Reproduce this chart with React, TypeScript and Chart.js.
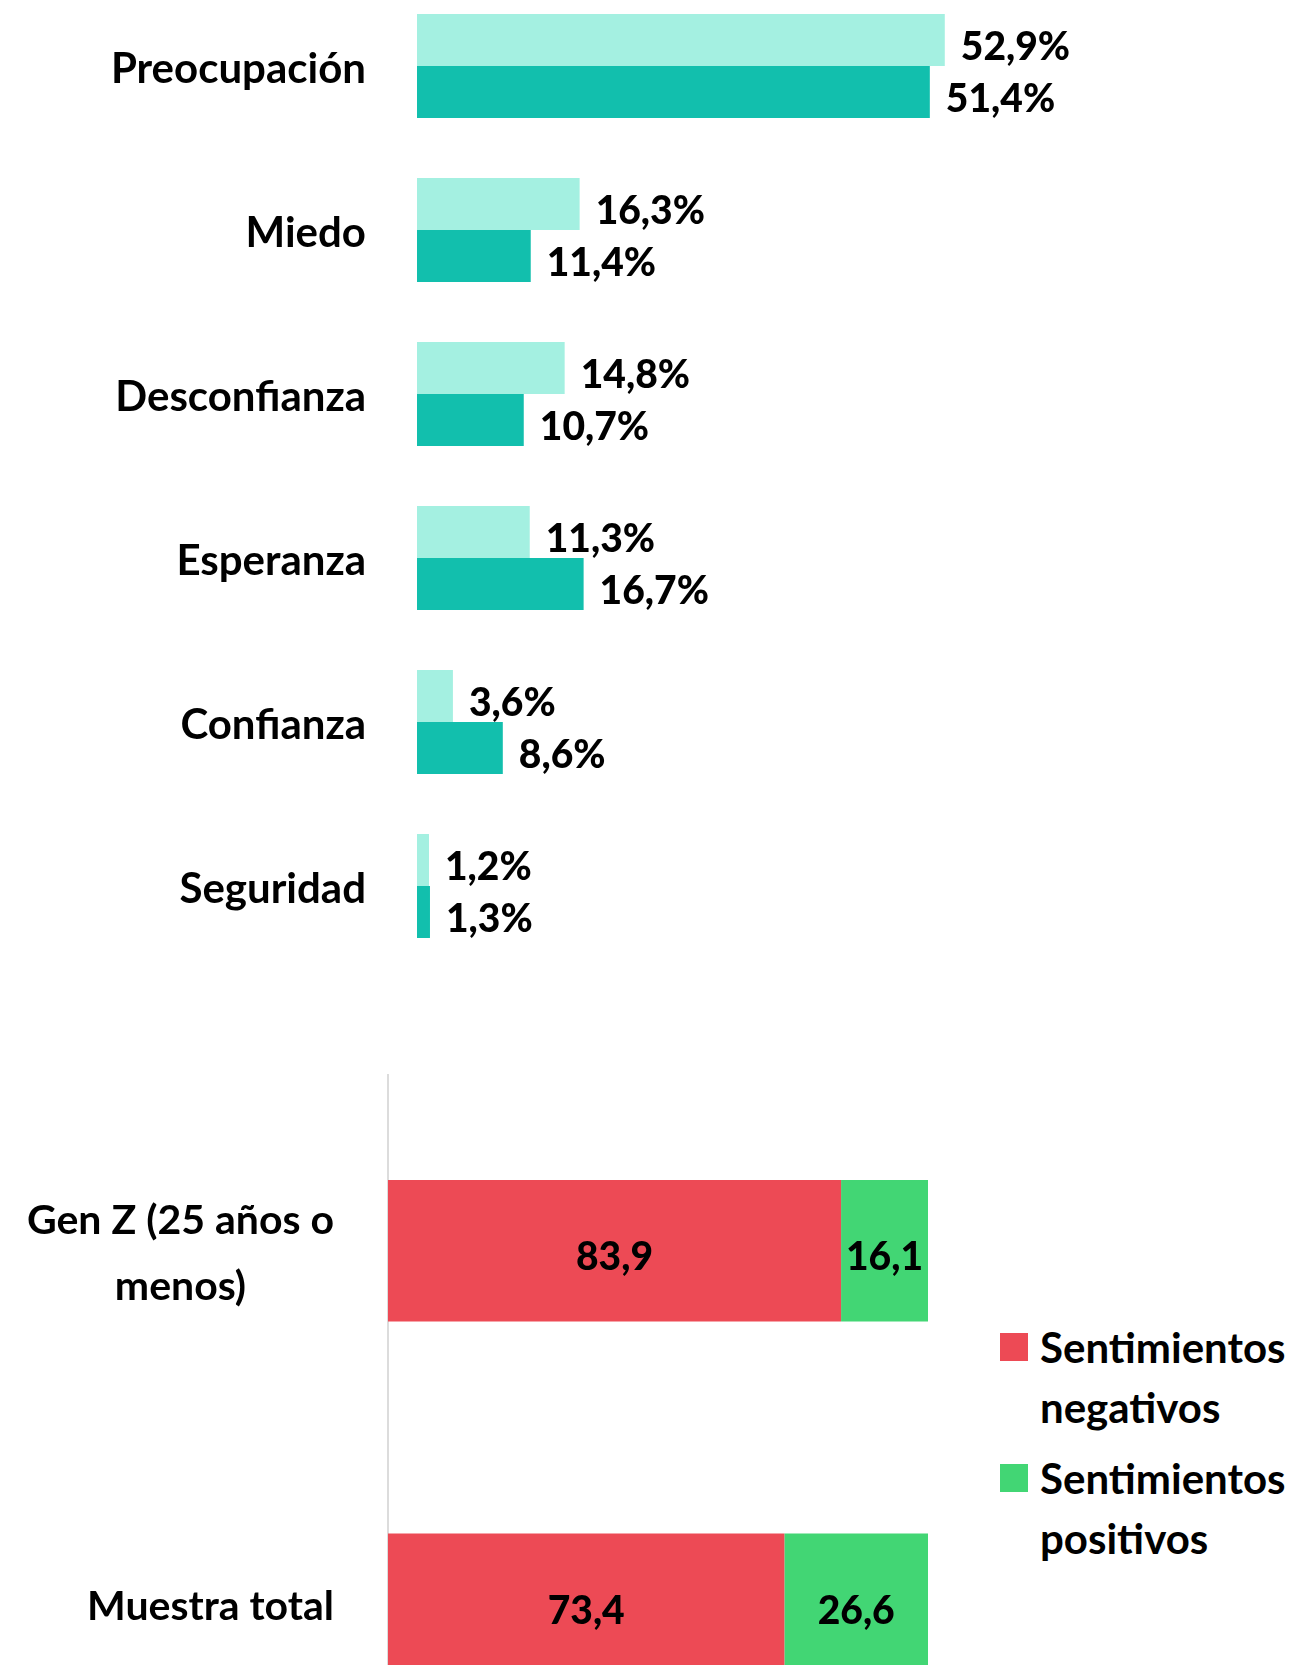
import React, { useEffect, useRef } from 'react';
import { Chart, registerables } from 'chart.js';

Chart.register(...registerables);

// ---------- Data ----------
const emotionCategories = ['Preocupación', 'Miedo', 'Desconfianza', 'Esperanza', 'Confianza', 'Seguridad'];
const genZEmotionValues = [52.9, 16.3, 14.8, 11.3, 3.6, 1.2];
const totalEmotionValues = [51.4, 11.4, 10.7, 16.7, 8.6, 1.3];

const groupLabels = [['Gen Z (25 años o', 'menos)'], ['Muestra total']];
const negativeValues = [83.9, 73.4];
const positiveValues = [16.1, 26.6];
const legendNegative = ['Sentimientos', 'negativos'];
const legendPositive = ['Sentimientos', 'positivos'];

// ---------- Styles ----------
const LIGHT = '#a4f0e1';
const DARK = '#12bfad';
const RED = '#ed4a55';
const GREEN = '#42d674';
const FONT = 'Lato, "Open Sans", "Noto Sans", sans-serif';

const fmt = (v: number) => v.toFixed(1).replace('.', ',');

const endLabelPlugin = {
  id: 'endLabels',
  afterDatasetsDraw(chart: any) {
    const ctx = chart.ctx;
    ctx.save();
    ctx.fillStyle = '#000';
    ctx.font = `900 39px ${FONT}`;
    ctx.textAlign = 'left';
    ctx.textBaseline = 'middle';
    chart.data.datasets.forEach((ds: any, di: number) => {
      const meta = chart.getDatasetMeta(di);
      meta.data.forEach((bar: any, i: number) => {
        ctx.fillText(fmt(ds.data[i]) + '%', bar.x + 16, bar.y + 7);
      });
    });
    ctx.restore();
  },
};

const categoryLabelPlugin = {
  id: 'categoryLabels',
  afterDraw(chart: any) {
    const ctx = chart.ctx;
    const yScale = chart.scales.y;
    ctx.save();
    ctx.fillStyle = '#000';
    ctx.font = `700 42px ${FONT}`;
    ctx.textAlign = 'right';
    ctx.textBaseline = 'middle';
    emotionCategories.forEach((c, i) => {
      ctx.fillText(c, 366, yScale.getPixelForValue(i) + 3);
    });
    ctx.restore();
  },
};

const centerLabelPlugin = {
  id: 'centerLabels',
  afterDatasetsDraw(chart: any) {
    const ctx = chart.ctx;
    ctx.save();
    ctx.fillStyle = '#000';
    ctx.font = `900 39px ${FONT}`;
    ctx.textAlign = 'center';
    ctx.textBaseline = 'middle';
    chart.data.datasets.forEach((ds: any, di: number) => {
      const meta = chart.getDatasetMeta(di);
      meta.data.forEach((bar: any, i: number) => {
        ctx.fillText(fmt(ds.data[i]), (bar.x + bar.base) / 2, bar.y + 7);
      });
    });
    ctx.restore();
  },
};

const groupLabelPlugin = {
  id: 'groupLabels',
  afterDraw(chart: any) {
    const ctx = chart.ctx;
    const yScale = chart.scales.y;
    ctx.save();
    ctx.fillStyle = '#000';
    ctx.font = `700 41px ${FONT}`;
    ctx.textAlign = 'center';
    ctx.textBaseline = 'middle';
    const rightEdge = 334;
    const lineH = 66;
    groupLabels.forEach((lines, i) => {
      const y = yScale.getPixelForValue(i);
      const widest = Math.max(...lines.map((l) => ctx.measureText(l).width));
      const cx = rightEdge - widest / 2;
      const startY = y - ((lines.length - 1) * lineH) / 2;
      lines.forEach((l, li) => ctx.fillText(l, cx, startY + li * lineH + 3));
    });
    ctx.restore();
  },
};

export default function App() {
  const topRef = useRef<HTMLCanvasElement>(null);
  const bottomRef = useRef<HTMLCanvasElement>(null);

  useEffect(() => {
    const top = new Chart(topRef.current!, {
      type: 'bar',
      data: {
        labels: emotionCategories,
        datasets: [
          { label: 'Gen Z', data: genZEmotionValues, backgroundColor: LIGHT, categoryPercentage: 0.634, barPercentage: 1 },
          { label: 'Muestra total', data: totalEmotionValues, backgroundColor: DARK, categoryPercentage: 0.634, barPercentage: 1 },
        ],
      },
      options: {
        indexAxis: 'y',
        responsive: false,
        animation: false,
        layout: { padding: 0 },
        plugins: { legend: { display: false }, tooltip: { enabled: false } },
        scales: {
          x: { min: 0, max: 87.5, display: false },
          y: {
            grid: { display: false, drawTicks: false },
            border: { display: false },
            ticks: { display: false },
            afterFit: (s: any) => {
              s.width = 417;
            },
          },
        },
      } as any,
      plugins: [endLabelPlugin, categoryLabelPlugin],
    });

    const bottom = new Chart(bottomRef.current!, {
      type: 'bar',
      data: {
        labels: groupLabels.map((l) => l.join(' ')),
        datasets: [
          { label: 'Sentimientos negativos', data: negativeValues, backgroundColor: RED, categoryPercentage: 0.4, barPercentage: 1 },
          { label: 'Sentimientos positivos', data: positiveValues, backgroundColor: GREEN, categoryPercentage: 0.4, barPercentage: 1 },
        ],
      },
      options: {
        indexAxis: 'y',
        responsive: false,
        animation: false,
        layout: { padding: 0 },
        plugins: { legend: { display: false }, tooltip: { enabled: false } },
        scales: {
          x: { min: 0, max: 100, display: false, stacked: true },
          y: {
            stacked: true,
            grid: { display: false, drawTicks: false },
            border: { display: true, color: '#dcdcdc', width: 2 },
            ticks: { display: false },
            afterFit: (s: any) => {
              s.width = 388;
            },
          },
        },
      } as any,
      plugins: [centerLabelPlugin, groupLabelPlugin],
    });

    if ((document as any).fonts && (document as any).fonts.ready) {
      (document as any).fonts.ready.then(() => {
        top.update();
        bottom.update();
      });
    }

    return () => {
      top.destroy();
      bottom.destroy();
    };
  }, []);

  const legendText: React.CSSProperties = {
    position: 'absolute',
    left: 1040,
    font: `700 42px ${FONT}`,
    lineHeight: '60px',
    color: '#000',
    whiteSpace: 'nowrap',
  };

  return (
    <div style={{ position: 'absolute', left: 0, top: 0, width: 1290, height: 1665, overflow: 'hidden', background: '#fff' }}>
      <canvas
        ref={topRef}
        width={1290}
        height={984}
        style={{ position: 'absolute', left: 0, top: -16, width: 1290, height: 984 }}
      />
      <canvas
        ref={bottomRef}
        width={928}
        height={707}
        style={{ position: 'absolute', left: 0, top: 1073.5, width: 928, height: 707 }}
      />
      <div style={{ position: 'absolute', left: 1000, top: 1333, width: 28, height: 28, background: RED }} />
      <div style={{ ...legendText, top: 1317 }}>
        {legendNegative.map((t, i) => (
          <div key={i}>{t}</div>
        ))}
      </div>
      <div style={{ position: 'absolute', left: 1000, top: 1464, width: 28, height: 28, background: GREEN }} />
      <div style={{ ...legendText, top: 1448 }}>
        {legendPositive.map((t, i) => (
          <div key={i}>{t}</div>
        ))}
      </div>
    </div>
  );
}
